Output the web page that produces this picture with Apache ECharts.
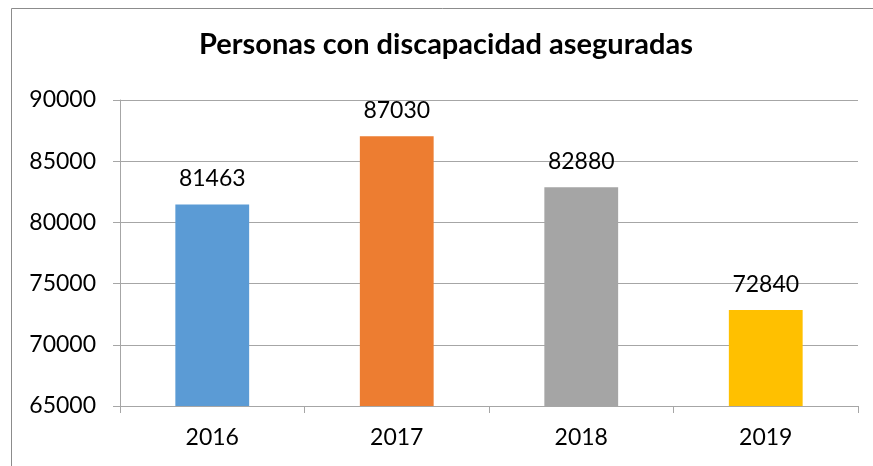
<!DOCTYPE html>
<html>
<head>
<meta charset="utf-8">
<script src="https://cdn.jsdelivr.net/npm/echarts@6/dist/echarts.min.js"></script>
<style>
  html, body { margin: 0; padding: 0; background: #fff; }
  #chart { width: 873px; height: 466px; }
</style>
</head>
<body>
<div id="chart"></div>
<script>
// datos
var years = ['2016', '2017', '2018', '2019'];
var asegurados = [81463, 87030, 82880, 72840];
var colores = ['#5B9BD5', '#ED7D31', '#A5A5A5', '#FFC000'];
var fuente = 'Lato';

var chart = echarts.init(document.getElementById('chart'));
var option = {
    animation: false,
    backgroundColor: '#fff',
    title: {
        text: 'Personas con discapacidad aseguradas',
        left: 441,
        top: 25,
        textAlign: 'center',
        textStyle: { fontFamily: fuente, fontWeight: 'bold', fontSize: 29, color: '#000' }
    },
    graphic: [{
        type: 'rect',
        shape: { x: 11.5, y: 8.5, width: 900, height: 500 },
        style: { fill: 'none', stroke: '#8c8c8c', lineWidth: 1 },
        silent: true
    }],
    grid: { left: 120, right: 15, top: 100, bottom: 60 },
    xAxis: {
        type: 'category',
        data: years,
        axisLine: { lineStyle: { color: '#a6a6a6' } },
        axisTick: { show: true, length: 7, lineStyle: { color: '#a6a6a6' } },
        axisLabel: { fontFamily: fuente, fontSize: 23, color: '#000', margin: 20 }
    },
    yAxis: {
        type: 'value',
        min: 65000,
        max: 90000,
        interval: 5000,
        axisLine: { show: true, lineStyle: { color: '#a6a6a6' } },
        axisTick: { show: true, length: 7, lineStyle: { color: '#a6a6a6' } },
        splitLine: { lineStyle: { color: '#a6a6a6' } },
        axisLabel: {
            fontFamily: fuente, fontSize: 23, color: '#000', margin: 24,
            formatter: function (v) { return String(v); }
        }
    },
    series: [{
        type: 'bar',
        data: asegurados.map(function (v, i) {
            return { value: v, itemStyle: { color: colores[i] } };
        }),
        barWidth: '40%',
        label: {
            show: true,
            position: 'top',
            distance: 14,
            fontFamily: fuente,
            fontSize: 23,
            color: '#000'
        }
    }]
};
chart.setOption(option);
</script>
</body>
</html>
